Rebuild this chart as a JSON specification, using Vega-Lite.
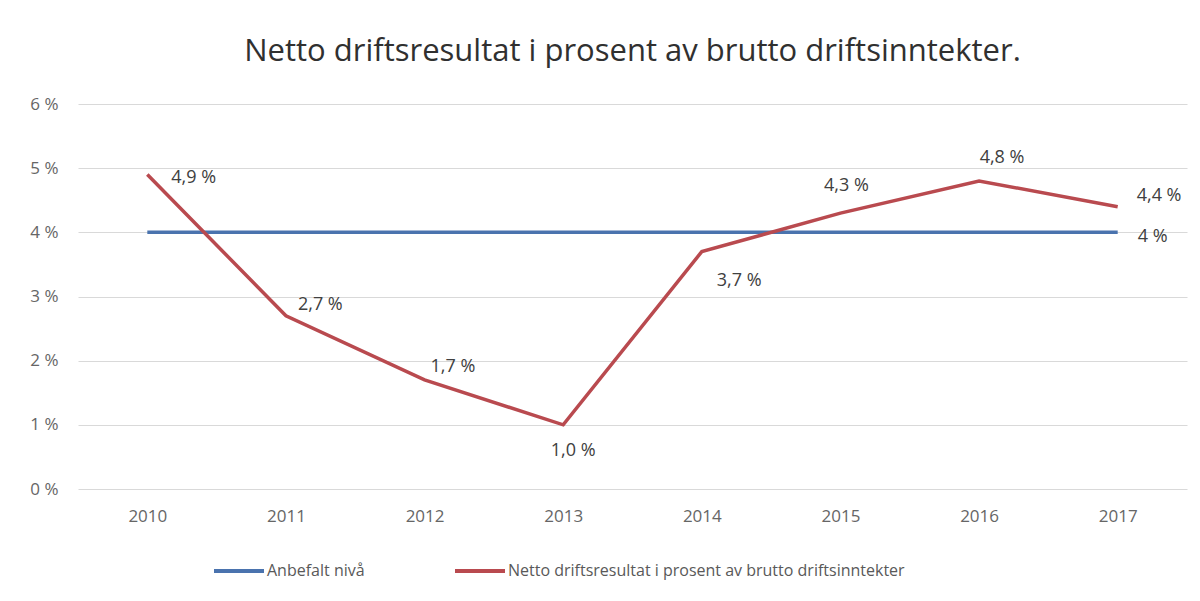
{
  "$schema": "https://vega.github.io/schema/vega-lite/v6.json",
  "width": 1109,
  "height": 385,
  "autosize": {"type": "none"},
  "padding": {"left": 78, "top": 104, "right": 13, "bottom": 112},
  "background": "white",
  "config": {
    "font": "Open Sans",
    "locale": {"number": {"decimal": ",", "thousands": " ", "grouping": [3], "currency": ["", " kr"], "percent": " %"}},
    "view": {"stroke": null},
    "axis": {"labelFont": "Open Sans", "labelColor": "#666666", "labelFontSize": 17}
  },
  "title": {
    "text": "Netto driftsresultat i prosent av brutto driftsinntekter.",
    "anchor": "middle",
    "fontSize": 31,
    "fontWeight": "normal",
    "color": "#303030",
    "font": "Open Sans",
    "offset": 27
  },
  "data": {
    "values": [
      {"year": "2010", "series": "Anbefalt nivå", "value": 0.04},
      {"year": "2011", "series": "Anbefalt nivå", "value": 0.04},
      {"year": "2012", "series": "Anbefalt nivå", "value": 0.04},
      {"year": "2013", "series": "Anbefalt nivå", "value": 0.04},
      {"year": "2014", "series": "Anbefalt nivå", "value": 0.04},
      {"year": "2015", "series": "Anbefalt nivå", "value": 0.04},
      {"year": "2016", "series": "Anbefalt nivå", "value": 0.04},
      {"year": "2017", "series": "Anbefalt nivå", "value": 0.04},
      {"year": "2010", "series": "Netto driftsresultat i prosent av brutto driftsinntekter", "value": 0.049},
      {"year": "2011", "series": "Netto driftsresultat i prosent av brutto driftsinntekter", "value": 0.027},
      {"year": "2012", "series": "Netto driftsresultat i prosent av brutto driftsinntekter", "value": 0.017},
      {"year": "2013", "series": "Netto driftsresultat i prosent av brutto driftsinntekter", "value": 0.010},
      {"year": "2014", "series": "Netto driftsresultat i prosent av brutto driftsinntekter", "value": 0.037},
      {"year": "2015", "series": "Netto driftsresultat i prosent av brutto driftsinntekter", "value": 0.043},
      {"year": "2016", "series": "Netto driftsresultat i prosent av brutto driftsinntekter", "value": 0.048},
      {"year": "2017", "series": "Netto driftsresultat i prosent av brutto driftsinntekter", "value": 0.044}
    ]
  },
  "encoding": {
    "x": {
      "field": "year",
      "type": "ordinal",
      "scale": {"type": "point", "padding": 0.5},
      "axis": {"title": null, "labelAngle": 0, "domain": false, "ticks": false, "labelPadding": 19, "grid": false}
    },
    "y": {
      "field": "value",
      "type": "quantitative",
      "scale": {"domain": [0, 0.06], "nice": false},
      "axis": {"title": null, "format": ".0%", "values": [0, 0.01, 0.02, 0.03, 0.04, 0.05, 0.06], "domain": false, "ticks": false, "labelPadding": 20, "gridColor": "#d9d9d9", "gridWidth": 1}
    }
  },
  "layer": [
    {
      "mark": {"type": "line", "strokeWidth": 3.5},
      "encoding": {
        "color": {
          "field": "series",
          "type": "nominal",
          "scale": {"domain": ["Anbefalt nivå", "Netto driftsresultat i prosent av brutto driftsinntekter"], "range": ["#4a73ae", "#b94a4f"]},
          "legend": {
            "title": null,
            "orient": "none",
            "legendX": 134,
            "legendY": 440,
            "direction": "horizontal",
            "symbolType": "stroke",
            "symbolSize": 2500,
            "symbolStrokeWidth": 4,
            "labelFont": "Open Sans",
            "labelFontSize": 16,
            "labelColor": "#595959",
            "labelOffset": 1,
            "labelLimit": 0,
            "columnPadding": 82,
            "padding": 0
          }
        }
      }
    },
    {
      "transform": [{"filter": {"field": "series", "equal": "Netto driftsresultat i prosent av brutto driftsinntekter"}}, {"filter": {"field": "year", "equal": "2010"}}],
      "mark": {"type": "text", "align": "left", "baseline": "middle", "dx": 24, "dy": 3, "fontSize": 18, "color": "#404040"},
      "encoding": {"text": {"field": "value", "type": "quantitative", "format": ".1%"}}
    },
    {
      "transform": [{"filter": {"field": "series", "equal": "Netto driftsresultat i prosent av brutto driftsinntekter"}}, {"filter": {"field": "year", "equal": "2011"}}],
      "mark": {"type": "text", "align": "left", "baseline": "middle", "dx": 12, "dy": -11, "fontSize": 18, "color": "#404040"},
      "encoding": {"text": {"field": "value", "type": "quantitative", "format": ".1%"}}
    },
    {
      "transform": [{"filter": {"field": "series", "equal": "Netto driftsresultat i prosent av brutto driftsinntekter"}}, {"filter": {"field": "year", "equal": "2012"}}],
      "mark": {"type": "text", "align": "left", "baseline": "middle", "dx": 6, "dy": -13, "fontSize": 18, "color": "#404040"},
      "encoding": {"text": {"field": "value", "type": "quantitative", "format": ".1%"}}
    },
    {
      "transform": [{"filter": {"field": "series", "equal": "Netto driftsresultat i prosent av brutto driftsinntekter"}}, {"filter": {"field": "year", "equal": "2013"}}],
      "mark": {"type": "text", "align": "center", "baseline": "middle", "dx": 10, "dy": 26, "fontSize": 18, "color": "#404040"},
      "encoding": {"text": {"field": "value", "type": "quantitative", "format": ".1%"}}
    },
    {
      "transform": [{"filter": {"field": "series", "equal": "Netto driftsresultat i prosent av brutto driftsinntekter"}}, {"filter": {"field": "year", "equal": "2014"}}],
      "mark": {"type": "text", "align": "left", "baseline": "middle", "dx": 15, "dy": 29, "fontSize": 18, "color": "#404040"},
      "encoding": {"text": {"field": "value", "type": "quantitative", "format": ".1%"}}
    },
    {
      "transform": [{"filter": {"field": "series", "equal": "Netto driftsresultat i prosent av brutto driftsinntekter"}}, {"filter": {"field": "year", "equal": "2015"}}],
      "mark": {"type": "text", "align": "center", "baseline": "middle", "dx": 6, "dy": -27, "fontSize": 18, "color": "#404040"},
      "encoding": {"text": {"field": "value", "type": "quantitative", "format": ".1%"}}
    },
    {
      "transform": [{"filter": {"field": "series", "equal": "Netto driftsresultat i prosent av brutto driftsinntekter"}}, {"filter": {"field": "year", "equal": "2016"}}],
      "mark": {"type": "text", "align": "center", "baseline": "middle", "dx": 23, "dy": -23, "fontSize": 18, "color": "#404040"},
      "encoding": {"text": {"field": "value", "type": "quantitative", "format": ".1%"}}
    },
    {
      "transform": [{"filter": {"field": "series", "equal": "Netto driftsresultat i prosent av brutto driftsinntekter"}}, {"filter": {"field": "year", "equal": "2017"}}],
      "mark": {"type": "text", "align": "left", "baseline": "middle", "dx": 19, "dy": -11, "fontSize": 18, "color": "#404040"},
      "encoding": {"text": {"field": "value", "type": "quantitative", "format": ".1%"}}
    },
    {
      "transform": [{"filter": {"field": "series", "equal": "Anbefalt nivå"}}, {"filter": {"field": "year", "equal": "2017"}}],
      "mark": {"type": "text", "align": "left", "baseline": "middle", "dx": 20, "dy": 5, "fontSize": 18, "color": "#404040"},
      "encoding": {"text": {"field": "value", "type": "quantitative", "format": ".0%"}}
    }
  ]
}
